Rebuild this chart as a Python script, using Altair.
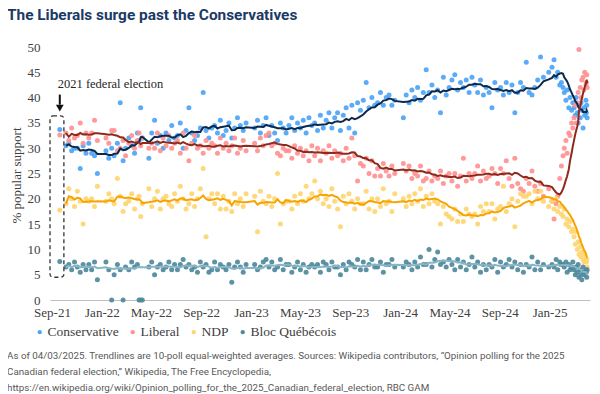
import altair as alt
import pandas as pd

PARTIES = ["Conservative", "Liberal", "NDP", "Bloc Québécois"]
POINT_COLORS = ["#4ea4f6", "#ff9191", "#ffd570", "#4e899b"]
TREND_COLORS = ["#0c2a4d", "#8e2a1c", "#f7a300", "#86b5c5"]

TITLE = "The Liberals surge past the Conservatives"
NOTE_LINES = [
    "As of 04/03/2025. Trendlines are 10-poll equal-weighted averages. Sources: Wikipedia contributors, \u201cOpinion polling for the 2025",
    "Canadian federal election,\u201d Wikipedia, The Free Encyclopedia,",
    "https://en.wikipedia.org/wiki/Opinion_polling_for_the_2025_Canadian_federal_election, RBC GAM",
]
ANNOTATION = "2021 federal election"

ELECTION_DATE = "2021-09-20"
ELECTION_RESULT = [33.7, 32.6, 17.8, 7.6]
BOX_DATES = ["2021-08-27", "2021-09-30"]
BOX_VALUES = [36.4, 4.5]
ARROW_VALUES = [40.6, 38.6, 37.9]

TICK_DATES = ["2021-09-01", "2022-01-01", "2022-05-01", "2022-09-01", "2023-01-01",
              "2023-05-01", "2023-09-01", "2024-01-01", "2024-05-01", "2024-09-01",
              "2025-01-01"]
X_DOMAIN = ["2021-08-27", "2025-04-10"]

POLL_DATES = [
    "2021-10-05", "2021-10-12", "2021-10-19", "2021-10-26",
    "2021-11-02", "2021-11-09", "2021-11-16", "2021-11-23", "2021-11-30",
    "2021-12-07", "2021-12-14", "2021-12-21",
    "2022-01-11", "2022-01-18", "2022-01-25", "2022-01-31",
    "2022-02-08", "2022-02-15", "2022-02-22", "2022-02-28",
    "2022-03-08", "2022-03-15", "2022-03-22", "2022-03-29",
    "2022-04-02", "2022-04-06", "2022-04-10", "2022-04-26",
    "2022-05-03", "2022-05-10", "2022-05-17", "2022-05-24", "2022-05-31",
    "2022-06-07", "2022-06-14", "2022-06-21", "2022-06-28",
    "2022-07-05", "2022-07-12", "2022-07-19", "2022-07-26",
    "2022-08-02", "2022-08-09", "2022-08-16", "2022-08-23", "2022-08-30",
    "2022-09-06", "2022-09-13", "2022-09-20", "2022-09-27",
    "2022-10-04", "2022-10-11", "2022-10-18", "2022-10-25",
    "2022-11-01", "2022-11-08", "2022-11-15", "2022-11-22", "2022-11-29",
    "2022-12-06", "2022-12-13", "2022-12-20",
    "2023-01-10", "2023-01-17", "2023-01-24", "2023-01-31",
    "2023-02-07", "2023-02-14", "2023-02-21", "2023-02-28",
    "2023-03-07", "2023-03-14", "2023-03-21", "2023-03-28",
    "2023-04-04", "2023-04-11", "2023-04-18", "2023-04-25",
    "2023-05-02", "2023-05-09", "2023-05-16", "2023-05-23", "2023-05-30",
    "2023-06-06", "2023-06-13", "2023-06-20", "2023-06-27",
    "2023-07-04", "2023-07-11", "2023-07-18", "2023-07-25",
    "2023-08-01", "2023-08-08", "2023-08-15", "2023-08-22", "2023-08-29",
    "2023-09-05", "2023-09-12", "2023-09-19", "2023-09-26",
    "2023-10-03", "2023-10-10", "2023-10-17", "2023-10-24", "2023-10-31",
    "2023-11-07", "2023-11-14", "2023-11-21", "2023-11-28",
    "2023-12-05", "2023-12-12", "2023-12-19",
    "2024-01-09", "2024-01-16", "2024-01-23", "2024-01-30",
    "2024-02-06", "2024-02-13", "2024-02-20", "2024-02-27",
    "2024-03-05", "2024-03-12", "2024-03-19", "2024-03-26",
    "2024-04-02", "2024-04-09", "2024-04-16", "2024-04-23", "2024-04-30",
    "2024-05-07", "2024-05-14", "2024-05-21", "2024-05-28",
    "2024-06-04", "2024-06-11", "2024-06-18", "2024-06-25",
    "2024-07-02", "2024-07-09", "2024-07-16", "2024-07-23", "2024-07-30",
    "2024-08-06", "2024-08-13", "2024-08-20", "2024-08-27",
    "2024-09-03", "2024-09-10", "2024-09-17", "2024-09-24",
    "2024-10-01", "2024-10-08", "2024-10-15", "2024-10-22", "2024-10-29",
    "2024-11-05", "2024-11-12", "2024-11-19", "2024-11-26",
    "2024-12-03", "2024-12-10", "2024-12-17", "2024-12-30",
    "2025-01-07", "2025-01-12", "2025-01-17", "2025-01-21", "2025-01-26", "2025-01-30",
    "2025-02-03", "2025-02-06", "2025-02-10", "2025-02-13", "2025-02-17", "2025-02-20",
    "2025-02-24", "2025-02-27",
    "2025-03-02", "2025-03-05", "2025-03-07", "2025-03-10", "2025-03-12", "2025-03-14",
    "2025-03-17", "2025-03-19", "2025-03-21", "2025-03-24", "2025-03-26", "2025-03-28",
    "2025-03-31",
    "2025-04-01", "2025-04-02", "2025-04-03",
]

CONSERVATIVE = [
    30.5, 31, 29.5, 30,
    30, 26, 30.5, 29, 31,
    29, 28.5, 25,
    29.5, 28, 30, 28.5,
    31, 39, 27.5, 30,
    32, 30.5, 29, 33,
    31.5, 38, 32, 28,
    33, 35.5, 31, 32.5, 30,
    33, 31.5, 34.5, 32,
    32.5, 35, 30, 33.5,
    38, 33, 31.5, 32.5, 34,
    41, 33.5, 32, 34,
    34.5, 33, 35.5, 32.5,
    33.5, 35, 32, 34, 36,
    34.5, 33.5, 35,
    34, 35.5, 33, 34.5,
    36, 32.5, 34.5, 33,
    31.5, 35, 34, 33,
    34.5, 36, 33.5, 35,
    34, 35.5, 33, 36, 34.5,
    35, 33.5, 36.5, 34,
    35.5, 37, 34, 36,
    37, 33.5, 36.5, 38, 34,
    38.5, 33, 39, 37.5,
    39.5, 43, 38, 40, 38.5,
    39, 41, 38.5, 40,
    40.5, 38.5, 39.5,
    36, 40.5, 39, 41.5,
    40, 42, 39.5, 41,
    45.5, 41, 42.5, 40,
    41.5, 37, 44, 40.5, 42,
    43.5, 44.5, 41.5, 43,
    42, 43.5, 41, 44,
    42.5, 41, 43.5, 40.5, 42,
    41, 38, 43, 41.5,
    42, 40.5, 43, 41,
    42.5, 37, 41, 43, 42,
    47, 41, 40.5, 42,
    43.5, 48, 44, 45,
    46, 47.5, 44, 45, 42.5, 43,
    42, 41, 39.5, 41.5, 38, 40, 37.5, 39,
    38, 36.5, 40, 37, 35, 38.5, 36, 39, 37.5, 34, 38, 36.5, 39.5,
    37, 38.5, 36,
]

LIBERAL = [
    33, 31.5, 34, 32,
    32.5, 35, 31, 33, 32,
    33, 35.5, 31.5,
    32, 31, 33.5, 33.5,
    29.5, 30, 31.5, 28.5,
    31, 32.5, 30, 31.5,
    33, 30.5, 32, 30,
    31, 30, 33, 29.5, 32,
    30.5, 32.5, 30, 31,
    31.5, 29, 33, 30,
    27.5, 31, 32.5, 30, 30.5,
    29, 31.5, 30, 31,
    30.5, 29, 32, 30,
    31, 29.5, 30.5, 32, 29,
    30, 31.5, 29.5,
    31, 29.5, 32, 30.5,
    32.5, 33, 30.5, 31,
    29, 28.5, 30, 29.5,
    29.5, 28, 30.5, 29,
    30, 28.5, 29.5, 27.5, 30.5,
    28.5, 30, 27.5, 29.5,
    29, 30.5, 28, 29.5,
    28.5, 29, 27.5, 30, 28,
    32, 28.5, 23.5, 27,
    26.5, 28, 25, 27.5, 24.5,
    26, 24.5, 27, 25.5,
    24.5, 26.5, 25,
    27, 25.5, 26.5, 24,
    25, 24.5, 26.5, 23.5,
    24, 25.5, 23.5, 24.5,
    24, 25.5, 23, 24.5, 25,
    23.5, 25, 22.5, 24.5,
    28, 23.5, 25, 24,
    25, 26.5, 23.5, 25.5, 24,
    24.5, 26, 25, 23,
    26, 25, 27.5, 24,
    22.5, 28, 23, 22, 21.5,
    24, 23, 25.5, 22.5,
    21.5, 23, 20.5, 22,
    19.5, 16, 19, 20.5, 24, 26.5,
    28.5, 30, 31.5, 29, 33, 32.5, 35, 34,
    36, 38.5, 35, 39, 41, 49.5, 42, 40, 43.5, 44, 41.5, 45, 42.5,
    43, 44.5, 42,
]

NDP = [
    19, 22, 20, 18.5,
    21.5, 19.5, 15, 20, 19.5,
    20, 18.5, 22.5,
    19.5, 21, 20, 19,
    24, 20.5, 17.5, 19,
    19.5, 21, 18, 20,
    20.5, 16.5, 19, 22,
    18.5, 20, 21.5, 18, 20,
    20.5, 19, 18.5, 21,
    19.5, 22.5, 20, 18,
    19, 21, 18.5, 20, 22,
    26, 12.5, 20, 21,
    19, 21, 18, 20.5,
    18, 19.5, 17.5, 21, 19,
    20, 18.5, 21,
    20.5, 13.5, 21.5, 19.5,
    19, 20.5, 18.5, 20,
    25, 15, 19, 19.5,
    19.5, 18, 20.5, 19,
    21, 19.5, 22.5, 20, 21,
    23.5, 20, 21.5, 19,
    20, 18.5, 22, 19.5,
    18, 14.5, 20.5, 19, 21,
    19.5, 18, 20, 19,
    19, 21.5, 18, 20, 17.5,
    20, 18.5, 22, 19,
    19.5, 17.5, 21,
    20, 18.5, 20.5, 19,
    21, 19.5, 22, 18.5,
    20.5, 19, 21, 19.5,
    19, 15, 18.5, 17, 16.5,
    16, 18, 15.5, 17,
    15.5, 18, 17, 16.5,
    17, 15, 18.5, 17.5, 19,
    17.5, 19, 16, 18,
    18.5, 22.5, 17.5, 19,
    20, 14.5, 19.5, 21, 20.5,
    20.5, 21, 19, 21.5,
    20, 21.5, 19.5, 18.5,
    19.5, 18, 20, 17.5, 18.5, 17,
    16.5, 18, 15, 16, 14.5, 15.5, 13.5, 14,
    12.5, 11, 13.5, 10, 11.5, 9, 10.5, 8.5, 9.5, 8, 7.5, 9, 8,
    7.5, 8, 6.5,
]

BLOC = [
    6.5, 7, 6, 7.5,
    6.5, 5.5, 7, 6, 7,
    6, 7.5, 4,
    7.5, 6, 0, 5,
    7, 6, 0, 6.5,
    6, 7.5, 6.5, 7,
    0, 0, 0, 6.5,
    7.5, 5, 6.5, 7, 6,
    6.5, 7.5, 6, 7,
    6, 7, 8, 6.5,
    7, 6, 6.5, 5.5, 7.5,
    6.5, 7, 5.5, 6,
    7.5, 6, 7, 6.5,
    6, 7, 3.5, 6.5, 7.5,
    6.5, 5.5, 7,
    7, 6, 6.5, 7.5,
    8, 6.5, 7.5, 6,
    6.5, 8, 6, 7,
    7, 5.5, 6.5, 7.5,
    6, 7, 5.5, 6.5, 7,
    6.5, 7, 5.5, 7.5,
    7, 6, 7.5, 6.5,
    6.5, 5, 7, 6, 7.5,
    7, 6.5, 8, 6,
    7.5, 6, 7, 8, 6.5,
    6.5, 7.5, 5.5, 7,
    7, 8, 6.5,
    6.5, 7.5, 7, 6,
    7.5, 6.5, 8.5, 7,
    7, 10, 6.5, 8,
    9.5, 7, 7.5, 6.5, 8,
    7, 6, 8, 6.5,
    7.5, 6, 7, 8.5,
    6.5, 7.5, 5.5, 7, 6,
    7, 6.5, 8, 5.5,
    7.5, 6.5, 7, 8,
    6.5, 7.5, 6, 7, 5.5,
    7, 6.5, 8.5, 6,
    7.5, 6, 7, 6.5,
    7, 6.5, 8, 6, 7.5, 7,
    7, 6.5, 7.5, 5.5, 7, 6, 6.5, 7.5,
    6, 5, 6.5, 5.5, 7, 4.5, 6, 5, 4, 6.5, 5.5, 5, 6,
    5.5, 4.5, 6,
]

SERIES = [CONSERVATIVE, LIBERAL, NDP, BLOC]
for s in SERIES:
    assert len(s) == len(POLL_DATES), (len(s), len(POLL_DATES))

# ---- tables built from the lists ----
poll_rows = []
for p, vals in zip(PARTIES, SERIES):
    for d, v in zip(POLL_DATES, vals):
        poll_rows.append({"date": d, "party": p, "value": v})
polls = pd.DataFrame(poll_rows)
polls["date"] = pd.to_datetime(polls["date"])

election = pd.DataFrame({"date": pd.to_datetime([ELECTION_DATE] * 4),
                         "party": PARTIES, "value": ELECTION_RESULT})
points = pd.concat([election, polls], ignore_index=True)
points["order"] = points["party"].map({p: i for i, p in enumerate(PARTIES)})
points = points.sort_values(["order", "date"]).reset_index(drop=True)

box = pd.DataFrame({"d1": pd.to_datetime([BOX_DATES[0]]), "d2": pd.to_datetime([BOX_DATES[1]]),
                    "top": [BOX_VALUES[0]], "bottom": [BOX_VALUES[1]]})
arrow = pd.DataFrame({"date": pd.to_datetime([ELECTION_DATE]),
                      "y1": [ARROW_VALUES[0]], "y2": [ARROW_VALUES[1]], "head": [ARROW_VALUES[2]]})
ann = pd.DataFrame({"date": pd.to_datetime(["2021-09-15"]), "y": [41.9], "t": [ANNOTATION]})

SERIF = "Liberation Serif"
SANS = "Roboto"
TXT = "#404040"

x_scale = alt.Scale(domain=[pd.Timestamp(X_DOMAIN[0]).isoformat(), pd.Timestamp(X_DOMAIN[1]).isoformat()])
x_axis = alt.Axis(values=[pd.Timestamp(t).isoformat() for t in TICK_DATES], format="%b-%y",
                  labelFlush=False, ticks=False, grid=False, title=None,
                  labelFont=SERIF, labelFontSize=13, labelColor=TXT, labelPadding=6,
                  domainColor="#bfbfbf", domainWidth=1.2)
y_scale = alt.Scale(domain=[0, 50], nice=False)
y_axis = alt.Axis(values=list(range(0, 51, 5)), grid=False, ticks=False, domain=False,
                  labelFont=SERIF, labelFontSize=13, labelColor=TXT, labelPadding=10,
                  labelOverlap=False,
                  title="% popular support", titleFont=SERIF, titleFontSize=13,
                  titleFontWeight="normal", titleColor=TXT, titleX=-27, titleY=128)


def X(field):
    return alt.X(field, scale=x_scale, axis=x_axis)


def Y(field):
    return alt.Y(field, scale=y_scale, axis=y_axis)


pts = alt.Chart(points).mark_circle(size=25, opacity=0.92).encode(
    x=X("date:T"), y=Y("value:Q"),
    color=alt.Color("party:N", scale=alt.Scale(domain=PARTIES, range=POINT_COLORS),
                    legend=alt.Legend(title=None, orient="none", legendX=-17, legendY=278,
                                      direction="horizontal", symbolType="circle",
                                      symbolSize=18, symbolOpacity=1, padding=0,
                                      labelFont=SERIF, labelFontSize=13.5, labelColor=TXT,
                                      columnPadding=7, labelOffset=1)),
    order=alt.Order("order:Q"),
)

trend = alt.Chart(polls).transform_filter("datum.value > 0").transform_window(
    trend="mean(value)", frame=[-9, 0], groupby=["party"], sort=[alt.SortField("date")]
).mark_line(strokeWidth=2).encode(
    x=X("date:T"), y=Y("trend:Q"),
    color=alt.Color("party:N", scale=alt.Scale(domain=PARTIES, range=TREND_COLORS), legend=None),
)

rect = alt.Chart(box).mark_rect(fillOpacity=0, stroke="#333333", strokeWidth=1.3,
                                strokeDash=[4, 3], cornerRadius=3).encode(
    x=X("d1:T"), x2="d2:T", y=Y("top:Q"), y2="bottom:Q")

shaft = alt.Chart(arrow).mark_rule(color="#111111", strokeWidth=2).encode(
    x=X("date:T"), y=Y("y1:Q"), y2="y2:Q")
head = alt.Chart(arrow).mark_point(shape="triangle-down", filled=True, size=60,
                                   color="#111111", opacity=1).encode(
    x=X("date:T"), y=Y("head:Q"))

ann_text = alt.Chart(ann).mark_text(align="left", baseline="alphabetic", font=SERIF,
                                    fontSize=12.5, color="#262626").encode(
    x=X("date:T"), y=Y("y:Q"), text="t:N")

title = alt.Chart(pd.DataFrame({"t": [TITLE]})).mark_text(
    align="left", baseline="alphabetic", font=SANS, fontSize=15.4, fontWeight="bold",
    color="#1b3a66").encode(x=alt.value(-43), y=alt.value(-27), text="t:N")

note_layers = []
for i, line in enumerate(NOTE_LINES):
    note_layers.append(
        alt.Chart(pd.DataFrame({"t": [line]})).mark_text(
            align="left", baseline="alphabetic", font=SANS, fontSize=9.8, color="#595959"
        ).encode(x=alt.value(-43), y=alt.value(312 + 16 * i), text="t:N")
    )

chart = alt.layer(pts, trend, rect, shaft, head, ann_text, title, *note_layers).resolve_scale(
    color="independent"
).properties(
    width=540, height=253, autosize="none", background="white",
    padding={"left": 42, "top": 39, "right": 2, "bottom": 94},
).configure_view(stroke=None)

chart.save("out.html", embed_options={"renderer": "svg", "actions": False})
